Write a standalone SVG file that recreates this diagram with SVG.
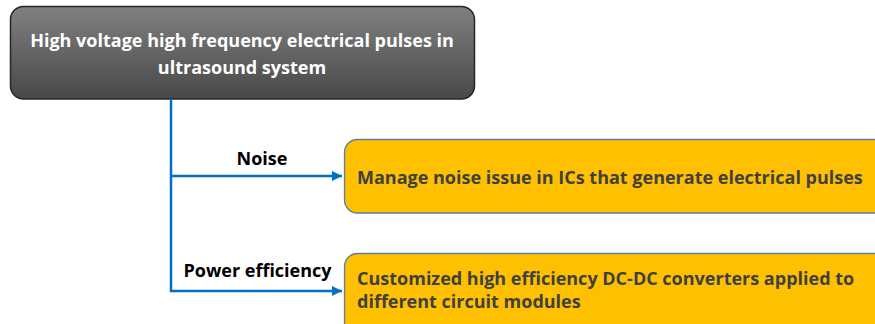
<svg xmlns="http://www.w3.org/2000/svg" width="875" height="324" viewBox="0 0 875 324">
<style>
.lbl{font-family:"Open Sans","Liberation Sans",sans-serif;font-weight:bold;font-size:18px;fill:#000}
.tt{font-family:"Open Sans","Liberation Sans",sans-serif;font-weight:bold;font-size:18px;fill:#fff}
.yt{font-family:"Open Sans","Liberation Sans",sans-serif;font-weight:bold;font-size:18px;fill:#404040}
.ybox{fill:#FFC000;stroke:#5b7fa6;stroke-width:1.3}
.conn{fill:none;stroke:#0070C0;stroke-width:2.5}
</style>
<defs>
<linearGradient id="g" x1="0" y1="0" x2="0" y2="1">
<stop offset="0" stop-color="#808080"/>
<stop offset="1" stop-color="#484848"/>
</linearGradient>
<marker id="arr" viewBox="0 0 10 10" refX="10" refY="5" markerWidth="4" markerHeight="4" orient="auto" markerUnits="strokeWidth">
<path d="M0,0 L10,5 L0,10 z" fill="#0070C0"/>
</marker>
</defs>
<g id="root">
<rect x="10.5" y="6.5" width="464" height="92.5" rx="13" fill="url(#g)" stroke="#262626" stroke-width="1.5"/>
<text class="tt" x="242" y="47" text-anchor="middle">High voltage high frequency electrical pulses in</text>
<text class="tt" x="242" y="74" text-anchor="middle">ultrasound system</text>
</g>
<g id="connectors">
<path class="conn" d="M171,99 V291 H342" marker-end="url(#arr)"/>
<path class="conn" d="M171,176 H342" marker-end="url(#arr)"/>
<text class="lbl" x="262" y="165" text-anchor="middle">Noise</text>
<text class="lbl" x="257.5" y="277" text-anchor="middle">Power efficiency</text>
</g>
<g id="noise">
<rect class="ybox" x="344.5" y="139.5" width="560" height="73.5" rx="13"/>
<text class="yt" x="357" y="184">Manage noise issue in ICs that generate electrical pulses</text>
</g>
<g id="power">
<rect class="ybox" x="344.5" y="253.5" width="560" height="100" rx="13"/>
<text class="yt" x="357" y="285">Customized high efficiency DC-DC converters applied to</text>
<text class="yt" x="357" y="308">different circuit modules</text>
</g>
</svg>
